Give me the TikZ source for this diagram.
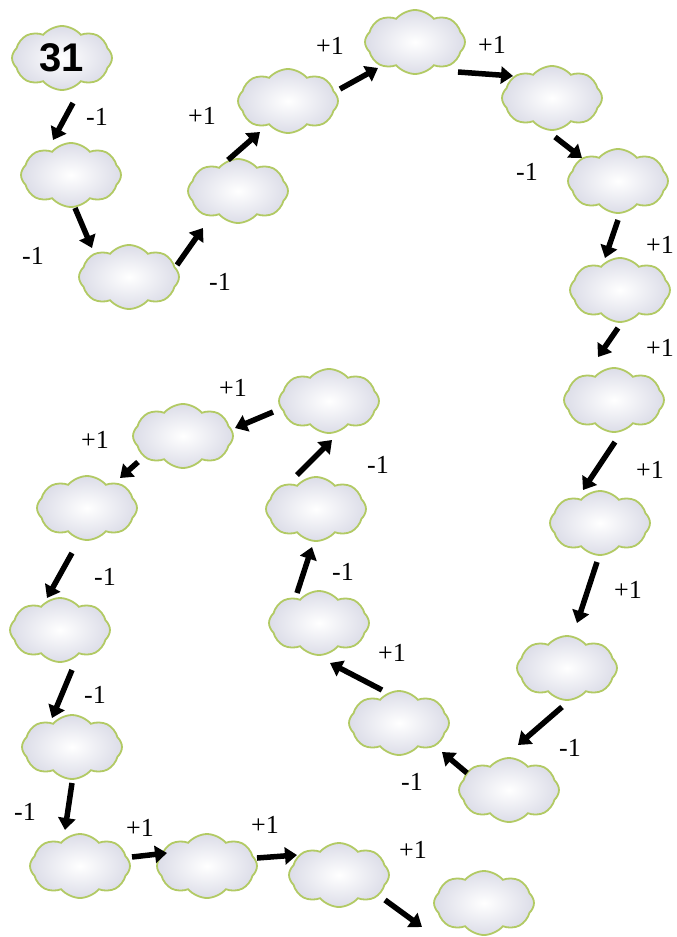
\documentclass[tikz,border=0pt]{standalone}
\usepackage{fontspec}
\setmainfont{Liberation Serif}
\newfontfamily\numfont{Liberation Sans}
\usetikzlibrary{shapes.symbols,arrows.meta}
\definecolor{cloudgreen}{RGB}{178,202,100}
\definecolor{cloudshade}{RGB}{220,221,232}
\newcommand\labfont{\fontsize{26}{28}\selectfont}
\newcommand\bignum{\numfont\bfseries\fontsize{40}{44}\selectfont}
\tikzset{
  cloudbox/.style={cloud, cloud puffs=8, cloud puff arc=100, aspect=1.55,
    minimum width=100pt, minimum height=64pt, inner sep=0pt,
    draw=cloudgreen, line width=1.8pt, inner color=white, outer color=cloudshade},
  arr/.style={line width=5.5pt, -{Triangle[length=12pt,width=17pt]}},
  lab/.style={font=\labfont, inner sep=0pt}
}
\begin{document}
\begin{tikzpicture}[x=1pt,y=-1pt]
\useasboundingbox (0,0) rectangle (677,937);
\fill[white] (0,0) rectangle (677,937);
% clouds
\node[cloudbox] (c1) at (62,58) {};
\node[font=\bignum, inner sep=0pt] (t1) at (c1.center) {31};
\foreach \n/\x/\y in {2/71/175, 3/129/277, 4/238/191, 5/288/101, 6/415/42,
  7/552/98, 8/618/181, 9/620/290, 10/614/400, 11/600/523, 12/567/668,
  13/509/790, 14/399/723, 15/319/623, 16/316/509, 17/329/401, 18/183/436,
  19/87/508, 20/60/630, 21/72/747, 22/80/866, 23/207/866, 24/339/875, 25/484/903}
  \node[cloudbox] (c\n) at (\x,\y) {};
% arrow end points
\foreach \n/\sx/\sy/\ex/\ey in {1/73/103/53/140, 2/75/208/92/248, 3/177/265/203/228,
  4/228/160/260/132, 5/340/89/378/68, 6/458/72/513/76, 7/555/137/582/158,
  8/618/220/605/258, 9/618/328/598/357, 10/615/442/583/490, 11/597/562/577/623,
  12/562/707/518/745, 13/467/773/442/752, 14/382/690/330/663, 15/297/593/312/547,
  16/297/475/332/440, 17/273/412/235/428, 18/138/462/120/478, 19/72/553/47/598,
  20/72/670/52/718, 21/72/783/65/830, 22/132/857/167/853, 23/257/858/297/855,
  24/385/900/422/927}
{
  \coordinate (s\n) at (\sx,\sy);
  \coordinate (e\n) at (\ex,\ey);
  \draw[arr] (s\n) -- (e\n);
}
% labels
\foreach \n/\x/\y/\t in {1/97/117/-1, 2/33/256/-1, 3/220/282/-1, 4/202/116/+1,
  5/330/46/+1, 6/492/45/+1, 7/527/172/-1, 8/660/245/+1, 9/660/348/+1,
  10/650/470/+1, 11/628/590/+1, 12/570/748/-1, 13/412/782/-1, 14/392/653/+1,
  15/343/572/-1, 16/378/465/-1, 17/233/388/+1, 18/95/440/+1, 19/105/577/-1,
  20/95/695/-1, 21/25/812/-1, 22/140/828/+1, 23/265/825/+1, 24/413/850/+1}
  \node[lab] (l\n) at (\x,\y) {\labfont\t};
\end{tikzpicture}
\end{document}
